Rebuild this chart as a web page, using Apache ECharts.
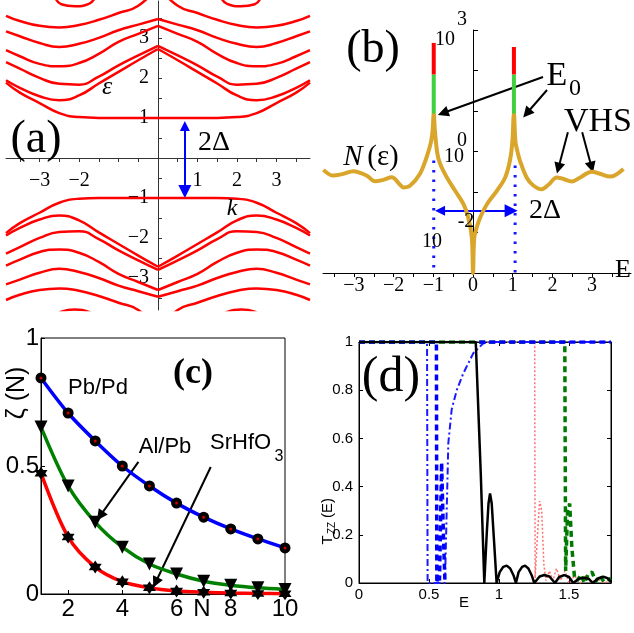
<!DOCTYPE html>
<html>
<head>
<meta charset="utf-8">
<script src="https://cdn.jsdelivr.net/npm/echarts@6/dist/echarts.min.js"></script>
<style>
html, body { margin: 0; padding: 0; background: #fff; }
#chart { width: 634px; height: 633px; }
</style>
</head>
<body>
<div id="chart"></div>
<script>
// (a) bands, k >= 0 half only (the picture is symmetric in k and in eps)
const kHalf = [0, 0.5, 1, 1.5, 2, 2.5, 3, 3.5, 3.85]
const band1 = [4.3, 3.8, 3.62, 3.45, 3.32, 3.26, 3.3, 3.42, 3.55]
const band2 = [3.47, 3.33, 3.19, 3.0, 2.85, 2.77, 2.87, 3.04, 3.16]
const band3 = [3.3, 3.1, 2.9, 2.6, 2.37, 2.29, 2.35, 2.54, 2.69]
const band4 = [2.8, 2.56, 2.31, 2.03, 1.83, 1.85, 2.0, 2.23, 2.39]
const band5 = [2.72, 2.44, 2.15, 1.86, 1.56, 1.44, 1.54, 1.75, 1.94]
const band6 = [1, 1, 1, 1, 1.02, 1.12, 1.37, 1.63, 1.88]
const dashK = [1.6, 1.75, 2.1, 2.45, 2.6]
const dashEps = [4.0, 3.85, 3.79, 3.84, 4.0]

// (b) N(eps)
const dosE = [-3.77, -3.52, -3.27, -3.02, -2.68, -2.47, -2.26, -2.05, -1.84, -1.76, -1.59, -1.34, -1.17, -1.06, -1.02, -0.99, -0.96, -0.9, -0.83, -0.66, -0.45, -0.24, -0.12, -0.03, 0, 0.03, 0.09, 0.18, 0.35, 0.6, 0.81, 0.93, 0.99, 1.03, 1.07, 1.13, 1.18, 1.35, 1.52, 1.73, 1.9, 2.11, 2.28, 2.49, 2.7, 2.99, 3.2, 3.45, 3.79]
const dosN = [0.352, 0.254, 0.28, 0.324, 0.254, 0.183, 0.199, 0.23, 0.152, 0.13, 0.143, 0.28, 0.72, 1.7, 3.2, 8.7, 3.2, 0.9, 0.5, 0.23, 0.107, 0.05, 0.0234, 0.0074, 0.001, 0.0074, 0.013, 0.0234, 0.05, 0.107, 0.229, 0.6, 1.7, 8.7, 1.7, 0.9, 0.6, 0.229, 0.145, 0.117, 0.151, 0.229, 0.209, 0.182, 0.229, 0.316, 0.282, 0.24, 0.372]
const peakE = [-0.99, 1.03]
const peakGreen = [8.7, 80]
const peakRedTop = [480, 380]
const gapE = [-0.99, 1.06]
const gapDotTop = [0.6, 0.45]

// (c) zeta(N)
const layers = [1, 2, 3, 4, 5, 6, 7, 8, 9, 10]
const pbPd = [0.844, 0.707, 0.598, 0.5, 0.422, 0.355, 0.3, 0.254, 0.215, 0.18]
const alPb = [0.652, 0.422, 0.28, 0.183, 0.117, 0.078, 0.05, 0.034, 0.024, 0.018]
const srHfO3 = [0.472, 0.223, 0.105, 0.048, 0.024, 0.012, 0.007, 0.004, 0.002, 0.001]

// (d) T_ZZ(E)
const blackE = [0, 0.834, 0.87, 0.895, 0.912, 0.925, 0.936, 0.948, 0.965, 0.983, 1.005, 1.03, 1.055, 1.08, 1.105, 1.121, 1.14, 1.165, 1.186, 1.21, 1.235, 1.252, 1.29, 1.324, 1.36, 1.4, 1.43, 1.467, 1.5, 1.53, 1.57, 1.61, 1.64, 1.67, 1.71, 1.745, 1.775, 1.8]
const blackT = [1, 1, 0.45, 0, 0.2, 0.33, 0.372, 0.33, 0.17, 0, 0.045, 0.067, 0.072, 0.06, 0.03, 0, 0.045, 0.067, 0.072, 0.06, 0.03, 0, 0.027, 0.033, 0.027, 0, 0.025, 0.033, 0.025, 0, 0.018, 0.022, 0.018, 0, 0.02, 0.026, 0.02, 0.005]
const greenE = [0, 1.47, 1.476, 1.49, 1.505, 1.52, 1.54, 1.56, 1.585, 1.61, 1.64, 1.665, 1.69, 1.72, 1.75, 1.8]
const greenT = [1, 1, 0.05, 0.3, 0.33, 0.15, 0.02, 0.01, 0.035, 0, 0.04, 0.045, 0.005, 0.03, 0.005, 0.02]
const redE = [0, 1.255, 1.258, 1.275, 1.29, 1.305, 1.32, 1.335, 1.36, 1.385, 1.41, 1.44, 1.47, 1.5, 1.54, 1.58, 1.62, 1.66, 1.7, 1.75, 1.8]
const redT = [1, 1, 0.02, 0.2, 0.34, 0.3, 0.08, 0.01, 0.05, 0.01, 0.06, 0.01, 0.05, 0, 0.03, 0, 0.03, 0, 0.02, 0, 0.01]
// heavy blue: '-' breaks the line between the dip and the plateau
const blueDashE = [0, 0.553, 0.556, 0.565, 0.575, 0.59, 0.603, 0.614, 0.75, 0.86, 1.8]
const blueDashT = [1, 1, 0, 0.03, 0.01, 0.5, 0.2, 0, '-', 1, 1]
const blueDotE = [0, 0.486, 0.49, 0.614, 0.638, 0.662, 0.698, 0.745, 0.816, 0.888, 0.95, 1.8]
const blueDotT = [1, 1, 0, 0, 0.58, 0.72, 0.8, 0.87, 0.953, 0.995, 1, 1]

const serif = '"Liberation Serif"'
const sans = '"Liberation Sans"'
const minus = v => (v < 0 ? '\u2212' + (-v) : '' + v)
const zip = (xs, ys) => xs.map((x, i) => [x, ys[i]])

const chart = echarts.init(document.getElementById('chart'), null, { renderer: 'canvas' })

const series = []

// (a) each band as four halves so the cusp at k = 0 stays sharp
const bands = [band1, band2, band3, band4, band5, band6]
bands.forEach(b => {
  [1, -1].forEach(sx => {
    [1, -1].forEach(sy => {
      series.push({
        type: 'line', xAxisIndex: 0, yAxisIndex: 0, symbol: 'none', smooth: 0.5,
        lineStyle: { color: '#f00', width: 2.5 },
        data: kHalf.map((k, i) => [sx * k, sy * b[i]])
      })
    })
  })
})
;[1, -1].forEach(sx => {
  [1, -1].forEach(sy => {
    series.push({
      type: 'line', xAxisIndex: 0, yAxisIndex: 0, symbol: 'none', smooth: 0.5,
      lineStyle: { color: '#f00', width: 2.5 },
      data: dashK.map((k, i) => [sx * k, sy * dashEps[i]])
    })
  })
})
series.push({
  type: 'lines', coordinateSystem: 'cartesian2d', xAxisIndex: 0, yAxisIndex: 0,
  symbol: ['triangle', 'triangle'], symbolSize: [10, 13],
  lineStyle: { color: '#00f', width: 2, opacity: 1 },
  data: [{ coords: [[0.68, 0.8], [0.68, -0.84]] }]
})

// (b)
gapE.forEach((e, i) => {
  series.push({
    type: 'line', xAxisIndex: 1, yAxisIndex: 1, symbol: 'none',
    lineStyle: { color: '#1515ff', width: 3, type: [2.5, 7] },
    data: [[e, gapDotTop[i]], [e, 0.001]]
  })
})
series.push({
  type: 'line', xAxisIndex: 1, yAxisIndex: 1, symbol: 'none', smooth: 0.35,
  lineStyle: { color: '#d9a52a', width: 4 },
  data: zip(dosE, dosN)
})
peakE.forEach((e, i) => {
  series.push({
    type: 'line', xAxisIndex: 1, yAxisIndex: 1, symbol: 'none',
    lineStyle: { color: '#3fcf3f', width: 4 },
    data: [[e, peakGreen[0]], [e, peakGreen[1]]]
  })
  series.push({
    type: 'line', xAxisIndex: 1, yAxisIndex: 1, symbol: 'none',
    lineStyle: { color: '#f00', width: 4 },
    data: [[e, peakGreen[1]], [e, peakRedTop[i]]]
  })
})
series.push({
  type: 'lines', coordinateSystem: 'cartesian2d', xAxisIndex: 1, yAxisIndex: 1,
  symbol: ['triangle', 'triangle'], symbolSize: [10, 13],
  lineStyle: { color: '#00f', width: 2, opacity: 1 },
  data: [{ coords: [[-0.83, 0.0344], [0.96, 0.0344]] }]
})
series.push({
  type: 'lines', coordinateSystem: 'cartesian2d', xAxisIndex: 1, yAxisIndex: 1,
  symbol: ['none', 'triangle'], symbolSize: [9, 11],
  lineStyle: { color: '#000', width: 2, opacity: 1 },
  data: [
    { coords: [[1.763, 69], [-0.756, 8.9]] },
    { coords: [[1.864, 33], [1.355, 8.8]] },
    { coords: [[2.39, 3.0], [2.15, 0.387]] },
    { coords: [[2.75, 3.0], [2.987, 0.41]] }
  ]
})

// (c)
series.push({
  type: 'line', xAxisIndex: 2, yAxisIndex: 2, smooth: 0.3,
  symbol: 'circle', symbolSize: 11,
  itemStyle: { color: '#000' }, lineStyle: { color: '#00f', width: 3.5 },
  data: zip(layers, pbPd)
})
series.push({
  type: 'scatter', xAxisIndex: 2, yAxisIndex: 2, symbolSize: 3,
  itemStyle: { color: '#f00' }, data: zip(layers, pbPd), z: 3
})
series.push({
  type: 'line', xAxisIndex: 2, yAxisIndex: 2, smooth: 0.3,
  symbol: 'triangle', symbolRotate: 180, symbolSize: 13,
  itemStyle: { color: '#000' }, lineStyle: { color: '#008000', width: 3.5 },
  data: zip(layers, alPb)
})
series.push({
  type: 'line', xAxisIndex: 2, yAxisIndex: 2, smooth: 0.3,
  symbol: 'path://M0,-10 L8.66,5 L-8.66,5 Z M0,10 L-8.66,-5 L8.66,-5 Z', symbolSize: 13,
  itemStyle: { color: '#000' }, lineStyle: { color: '#f00', width: 3.5 },
  data: zip(layers, srHfO3)
})
series.push({
  type: 'lines', coordinateSystem: 'cartesian2d', xAxisIndex: 2, yAxisIndex: 2,
  symbol: ['none', 'triangle'], symbolSize: [9, 11],
  lineStyle: { color: '#000', width: 2, opacity: 1 },
  data: [
    { coords: [[4.593, 0.516], [3.18, 0.305]] },
    { coords: [[7.26, 0.496], [5.226, 0.045]] }
  ]
})

// (d)
series.push({
  type: 'line', xAxisIndex: 3, yAxisIndex: 3, symbol: 'none',
  lineStyle: { color: '#ff7070', width: 1.5, type: [2, 2] },
  data: zip(redE, redT)
})
series.push({
  type: 'line', xAxisIndex: 3, yAxisIndex: 3, symbol: 'none',
  lineStyle: { color: '#007a00', width: 3.5, type: [6, 4] },
  data: zip(greenE, greenT)
})
series.push({
  type: 'line', xAxisIndex: 3, yAxisIndex: 3, symbol: 'none',
  lineStyle: { color: '#1a1aff', width: 2, type: [7, 3, 2, 3] },
  data: zip(blueDotE, blueDotT)
})
series.push({
  type: 'line', xAxisIndex: 3, yAxisIndex: 3, symbol: 'none',
  lineStyle: { color: '#0000ff', width: 3.5, type: [6, 4] },
  data: zip(blueDashE, blueDashT)
})
series.push({
  type: 'line', xAxisIndex: 3, yAxisIndex: 3, symbol: 'none',
  lineStyle: { color: '#000', width: 2.5 },
  data: zip(blackE, blackT)
})

const txt = (x, y, text, font, extra) => ({
  type: 'text', x, y, z: 100,
  style: Object.assign({ text, font, fill: '#000', align: 'center', verticalAlign: 'middle' }, extra || {})
})

const graphic = [
  // (a)
  txt(36, 140, '(a)', '46px ' + serif),
  txt(214, 143, '2\u0394', '28px ' + serif),
  txt(107, 87, '\u03b5', 'italic 26px ' + serif),
  txt(232, 209, 'k', 'italic 24px ' + serif),
  // (b)
  txt(373, 50, '(b)', '46px ' + serif),
  txt(353, 157, 'N', 'italic 29px ' + serif),
  txt(383, 157, '(\u03b5)', '29px ' + serif),
  txt(557, 76, 'E', '34px ' + serif),
  txt(575, 89, '0', '24px ' + serif),
  txt(598, 122, 'VHS', '34px ' + serif),
  txt(545, 211, '2\u0394', '28px ' + serif),
  txt(623, 270, 'E', '26px ' + serif),
  txt(445, 40, '10', '20px ' + serif),
  txt(462, 20, '3', '20px ' + serif),
  txt(454, 157, '10', '20px ' + serif),
  txt(462, 141, '0', '20px ' + serif),
  txt(466, 222, '-2', '20px ' + serif),
  txt(432, 242, '10', '20px ' + serif),
  // (c)
  txt(193, 374, '(c)', 'bold 36px ' + serif),
  txt(98, 388, 'Pb/Pd', '22px ' + sans),
  txt(165, 447, 'Al/Pb', '22px ' + sans),
  txt(210, 443, 'SrHfO', '22px ' + sans, { align: 'left' }),
  txt(279, 457, '3', '16px ' + sans),
  txt(202, 609, 'N', '24px ' + sans),
  {
    type: 'group', x: 17, y: 393, rotation: Math.PI / 2,
    children: [txt(0, 0, '\u03b6 (N)', '25px ' + sans)]
  },
  // (d)
  txt(391, 378, '(d)', '50px ' + serif),
  txt(464, 603, 'E', '15px ' + sans),
  {
    type: 'group', x: 328, y: 520, rotation: Math.PI / 2,
    children: [
      txt(-20, 0, 'T', '15px ' + sans),
      txt(-8, 4, 'ZZ', '10px ' + sans),
      txt(12, 0, '(E)', '15px ' + sans)
    ]
  }
]

const blackAxis = { lineStyle: { color: '#000', width: 1 } }

chart.setOption({
  animation: false,
  backgroundColor: '#fff',
  textStyle: { fontFamily: sans },
  grid: [
    { left: 6, top: 1, width: 304, height: 309, outerBoundsMode: 'none' },
    { left: 323, top: 30, width: 308, height: 243, outerBoundsMode: 'none' },
    { left: 41, top: 338, width: 244, height: 256, show: true, borderColor: '#000', borderWidth: 1, outerBoundsMode: 'none' },
    { left: 359, top: 342, width: 252, height: 241, show: true, borderColor: '#000', borderWidth: 1, outerBoundsMode: 'none' }
  ],
  xAxis: [
    {
      // moved up onto eps = 0
      gridIndex: 0, type: 'value', min: -3.85, max: 3.85, position: 'bottom', offset: -152,
      axisLine: { onZero: false, lineStyle: { color: '#333', width: 1 } },
      axisTick: { show: true, length: 4, customValues: [-3.5, -3, -2.5, -2, -1.5, -1, -0.5, 0.5, 1, 1.5, 2, 2.5, 3, 3.5], lineStyle: { color: '#333' } },
      axisLabel: { customValues: [-3, -2, 1, 2, 3], formatter: minus, color: '#000', fontFamily: serif, fontSize: 20, margin: 13 },
      splitLine: { show: false }
    },
    {
      gridIndex: 1, type: 'value', min: -3.78, max: 3.98,
      axisLine: { onZero: false, lineStyle: { color: '#000', width: 1 } },
      axisTick: { show: true, length: 4, customValues: [-3.5, -3, -2.5, -2, -1.5, -1, -0.5, 0, 0.5, 1, 1.5, 2, 2.5, 3, 3.5], lineStyle: { color: '#000' } },
      axisLabel: { customValues: [-3, -2, -1, 0, 1, 2, 3], formatter: minus, color: '#000', fontFamily: serif, fontSize: 20, margin: 3 },
      splitLine: { show: false }
    },
    {
      gridIndex: 2, type: 'value', min: 1, max: 10,
      axisLine: blackAxis,
      axisTick: { show: true, inside: true, length: 4, customValues: [2, 4, 6, 8, 10], lineStyle: { color: '#000' } },
      axisLabel: { customValues: [2, 4, 6, 8, 10], color: '#000', fontFamily: sans, fontSize: 24, margin: 3 },
      splitLine: { show: false }
    },
    {
      gridIndex: 3, type: 'value', min: 0, max: 1.8,
      axisLine: blackAxis,
      axisTick: { show: true, inside: true, length: 4, customValues: [0, 0.5, 1, 1.5], lineStyle: { color: '#000' } },
      axisLabel: { customValues: [0, 0.5, 1, 1.5], color: '#000', fontFamily: sans, fontSize: 15, margin: 4 },
      splitLine: { show: false }
    },
    {
      gridIndex: 3, type: 'value', min: 0, max: 1.8, position: 'top',
      axisLine: { onZero: false, lineStyle: { color: '#000', width: 1 } },
      axisTick: { show: true, inside: true, length: 4, customValues: [0.5, 1, 1.5], lineStyle: { color: '#000' } },
      axisLabel: { show: false },
      splitLine: { show: false }
    }
  ],
  yAxis: [
    {
      // moved right onto k = 0
      gridIndex: 0, type: 'value', min: -3.8, max: 3.92, position: 'left', offset: -152,
      axisLine: { onZero: false, lineStyle: { color: '#333', width: 1 } },
      axisTick: { show: true, inside: true, length: 4, customValues: [-3.5, -3, -2.5, -2, -1.5, -1, -0.5, 0.5, 1, 1.5, 2, 2.5, 3, 3.5], lineStyle: { color: '#333' } },
      axisLabel: { customValues: [-3, -2, -1, 1, 2, 3], formatter: minus, color: '#000', fontFamily: serif, fontSize: 20, margin: 9 },
      splitLine: { show: false }
    },
    {
      gridIndex: 1, type: 'log', logBase: 10, min: 0.001, max: 1000, splitNumber: 6,
      axisLine: { onZero: true, lineStyle: { color: '#000', width: 1 } },
      axisTick: { show: true, inside: true, length: 5, lineStyle: { color: '#000' } },
      axisLabel: { show: false },
      splitLine: { show: false }
    },
    {
      gridIndex: 2, type: 'value', min: 0, max: 1, interval: 0.5,
      axisLine: blackAxis,
      axisTick: { show: true, inside: true, length: 4, lineStyle: { color: '#000' } },
      axisLabel: { color: '#000', fontFamily: sans, fontSize: 24, margin: 2 },
      splitLine: { show: false }
    },
    {
      gridIndex: 3, type: 'value', min: 0, max: 1, interval: 0.2,
      axisLine: blackAxis,
      axisTick: { show: true, inside: true, length: 4, lineStyle: { color: '#000' } },
      axisLabel: { color: '#000', fontFamily: sans, fontSize: 15, margin: 6 },
      splitLine: { show: false }
    },
    {
      gridIndex: 3, type: 'value', min: 0, max: 1, interval: 0.2, position: 'right',
      axisLine: { onZero: false, lineStyle: { color: '#000', width: 1 } },
      axisTick: { show: true, inside: true, length: 4, lineStyle: { color: '#000' } },
      axisLabel: { show: false },
      splitLine: { show: false }
    }
  ],
  series,
  graphic
})
</script>
</body>
</html>
